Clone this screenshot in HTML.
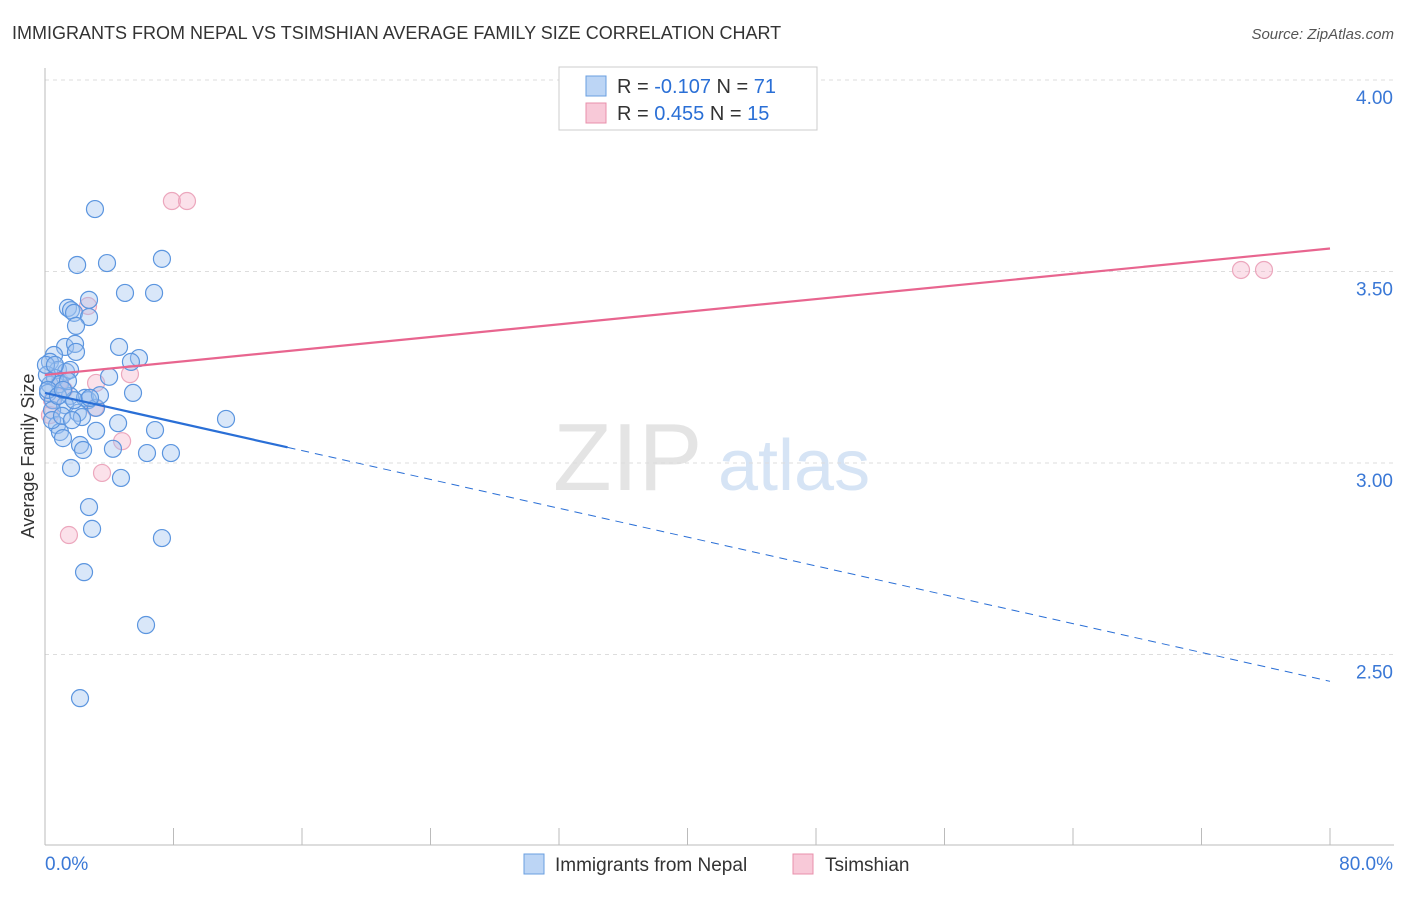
<!DOCTYPE html>
<html><head><meta charset="utf-8"><style>
body{margin:0;background:#fff;font-family:"Liberation Sans",sans-serif;}
svg text{font-family:"Liberation Sans",sans-serif;}
</style></head><body>
<svg id="chart" width="1406" height="892" xmlns="http://www.w3.org/2000/svg">
<text x="12" y="39" font-size="18" fill="#333">IMMIGRANTS FROM NEPAL VS TSIMSHIAN AVERAGE FAMILY SIZE CORRELATION CHART</text>
<text x="1394" y="39" font-size="15" fill="#555" text-anchor="end" font-style="italic">Source: ZipAtlas.com</text>
<text x="553" y="490" font-size="96" fill="#e4e4e4" font-family="Liberation Serif">ZIP</text>
<text x="718" y="490" font-size="72" fill="#d6e4f5">atlas</text>
<g id="grid"></g><g id="axes"></g><g id="marks"></g>
<text transform="translate(34,456) rotate(-90)" font-size="18" fill="#333" text-anchor="middle">Average Family Size</text>
<g>
<rect x="559" y="67" width="258" height="63" fill="#fff" stroke="#ccc"/>
<rect x="586" y="76" width="20" height="20" fill="#bcd5f5" stroke="#6a9fe0"/>
<text x="617" y="93" font-size="20" fill="#333">R = <tspan fill="#2a6fd6">-0.107</tspan>    N = <tspan fill="#2a6fd6">71</tspan></text>
<rect x="586" y="103" width="20" height="20" fill="#f8c9d8" stroke="#e890ab"/>
<text x="617" y="120" font-size="20" fill="#333">R =  <tspan fill="#2a6fd6">0.455</tspan>    N = <tspan fill="#2a6fd6">15</tspan></text>
</g>
<g>
<rect x="524" y="854" width="20" height="20" fill="#bcd5f5" stroke="#6a9fe0"/>
<text x="555" y="871" font-size="19" fill="#333">Immigrants from Nepal</text>
<rect x="793" y="854" width="20" height="20" fill="#f8c9d8" stroke="#e890ab"/>
<text x="825" y="871" font-size="19" fill="#333">Tsimshian</text>
</g>
</svg>
<script>
const yTicks=[2.5,3.0,3.5,4.0];
const yTickLabels=["2.50","3.00","3.50","4.00"];
const xTickLabels=["0.0%","80.0%"];
const nepalX=[3.11,2.0,3.86,7.28,4.98,6.79,1.43,1.62,2.74,1.81,2.74,1.93,1.25,1.87,1.93,4.61,5.85,5.35,0.56,0.31,0.81,1.31,1.56,3.99,5.48,0.31,0.62,0.93,0.19,0.5,1.56,2.49,2.68,1.25,3.18,2.05,2.3,0.44,0.75,0.93,1.12,4.55,6.85,3.18,2.18,2.37,4.23,6.35,7.84,11.27,1.62,4.73,2.74,2.93,7.28,2.43,6.29,2.18,0.12,0.19,0.44,0.06,0.81,1.06,1.81,3.42,1.43,0.62,1.12,2.8,1.68];
const nepalY=[3.663,3.517,3.522,3.533,3.444,3.444,3.405,3.399,3.426,3.392,3.381,3.358,3.303,3.311,3.29,3.303,3.274,3.264,3.282,3.264,3.243,3.238,3.243,3.225,3.183,3.204,3.222,3.206,3.183,3.164,3.175,3.170,3.164,3.151,3.144,3.131,3.120,3.138,3.099,3.081,3.065,3.104,3.086,3.084,3.047,3.034,3.037,3.026,3.026,3.115,2.987,2.961,2.885,2.828,2.804,2.715,2.577,2.386,3.230,3.191,3.112,3.256,3.175,3.123,3.164,3.177,3.214,3.256,3.191,3.170,3.112];
const tsimX=[7.9,8.84,74.46,75.89,2.68,3.18,5.29,4.8,3.55,1.49,3.11,0.93,0.44,1.18,0.31];
const tsimY=[3.684,3.684,3.504,3.504,3.410,3.209,3.232,3.057,2.974,2.812,3.144,3.214,3.164,3.191,3.125];
const nepalFit=[3.183,2.43], tsimFit=[3.23,3.56], nepalSolidEnd=15.1;
const X=v=>45+v/80*1285, Y=v=>80+(4-v)*383;
const NS="http://www.w3.org/2000/svg";
function mk(p,t,a){const e=document.createElementNS(NS,t);for(const k in a)e.setAttribute(k,a[k]);p.appendChild(e);return e;}
const grid=document.getElementById('grid'),axes=document.getElementById('axes'),marks=document.getElementById('marks');
yTicks.forEach((v,i)=>{
 const l=mk(grid,'line',{x1:45,x2:1394,y1:Y(v),y2:Y(v),stroke:'#ddd','stroke-dasharray':'4,4'});
 
 
 const t=mk(axes,'text',{x:1393,y:Y(v)+24,'font-size':19,fill:'#3a78d6','text-anchor':'end'});
 t.textContent=yTickLabels[i];
 
 
});
const ax=mk(axes,'line',{x1:45,x2:1394,y1:845,y2:845,stroke:'#bbb'});


const ay=mk(axes,'line',{x1:45,x2:45,y1:68,y2:845,stroke:'#bbb'});


for(let i=1;i<=10;i++){const t=mk(axes,'line',{x1:X(i*8),x2:X(i*8),y1:828,y2:845,stroke:'#bbb'});
 
 }
[[45,'start'],[1393,'end']].forEach((p,i)=>{const t=mk(axes,'text',{x:p[0],y:870,'font-size':19,fill:'#3a78d6','text-anchor':p[1]});t.textContent=xTickLabels[i];
 
 });
tsimX.forEach((x,i)=>{const c=mk(marks,'circle',{cx:X(x),cy:Y(tsimY[i]),r:8.5,fill:'rgba(244,170,195,0.35)',stroke:'#eca7bd','stroke-width':1.2});
 
 });
nepalX.forEach((x,i)=>{const c=mk(marks,'circle',{cx:X(x),cy:Y(nepalY[i]),r:8.5,fill:'rgba(160,195,240,0.4)',stroke:'#5b95df','stroke-width':1.2});
 
 });
const nAt=x=>nepalFit[0]+(nepalFit[1]-nepalFit[0])*x/80;
const l1=mk(marks,'line',{x1:X(0),y1:Y(tsimFit[0]),x2:X(80),y2:Y(tsimFit[1]),stroke:'#e8658f','stroke-width':2.2});


const l2=mk(marks,'line',{x1:X(0),y1:Y(nAt(0)),x2:X(nepalSolidEnd),y2:Y(nAt(nepalSolidEnd)),stroke:'#2a6fd6','stroke-width':2.2});


const l3=mk(marks,'line',{x1:X(nepalSolidEnd),y1:Y(nAt(nepalSolidEnd)),x2:X(80),y2:Y(nAt(80)),stroke:'#2a6fd6','stroke-width':1,'stroke-dasharray':'8,6'});


</script>
</body></html>
